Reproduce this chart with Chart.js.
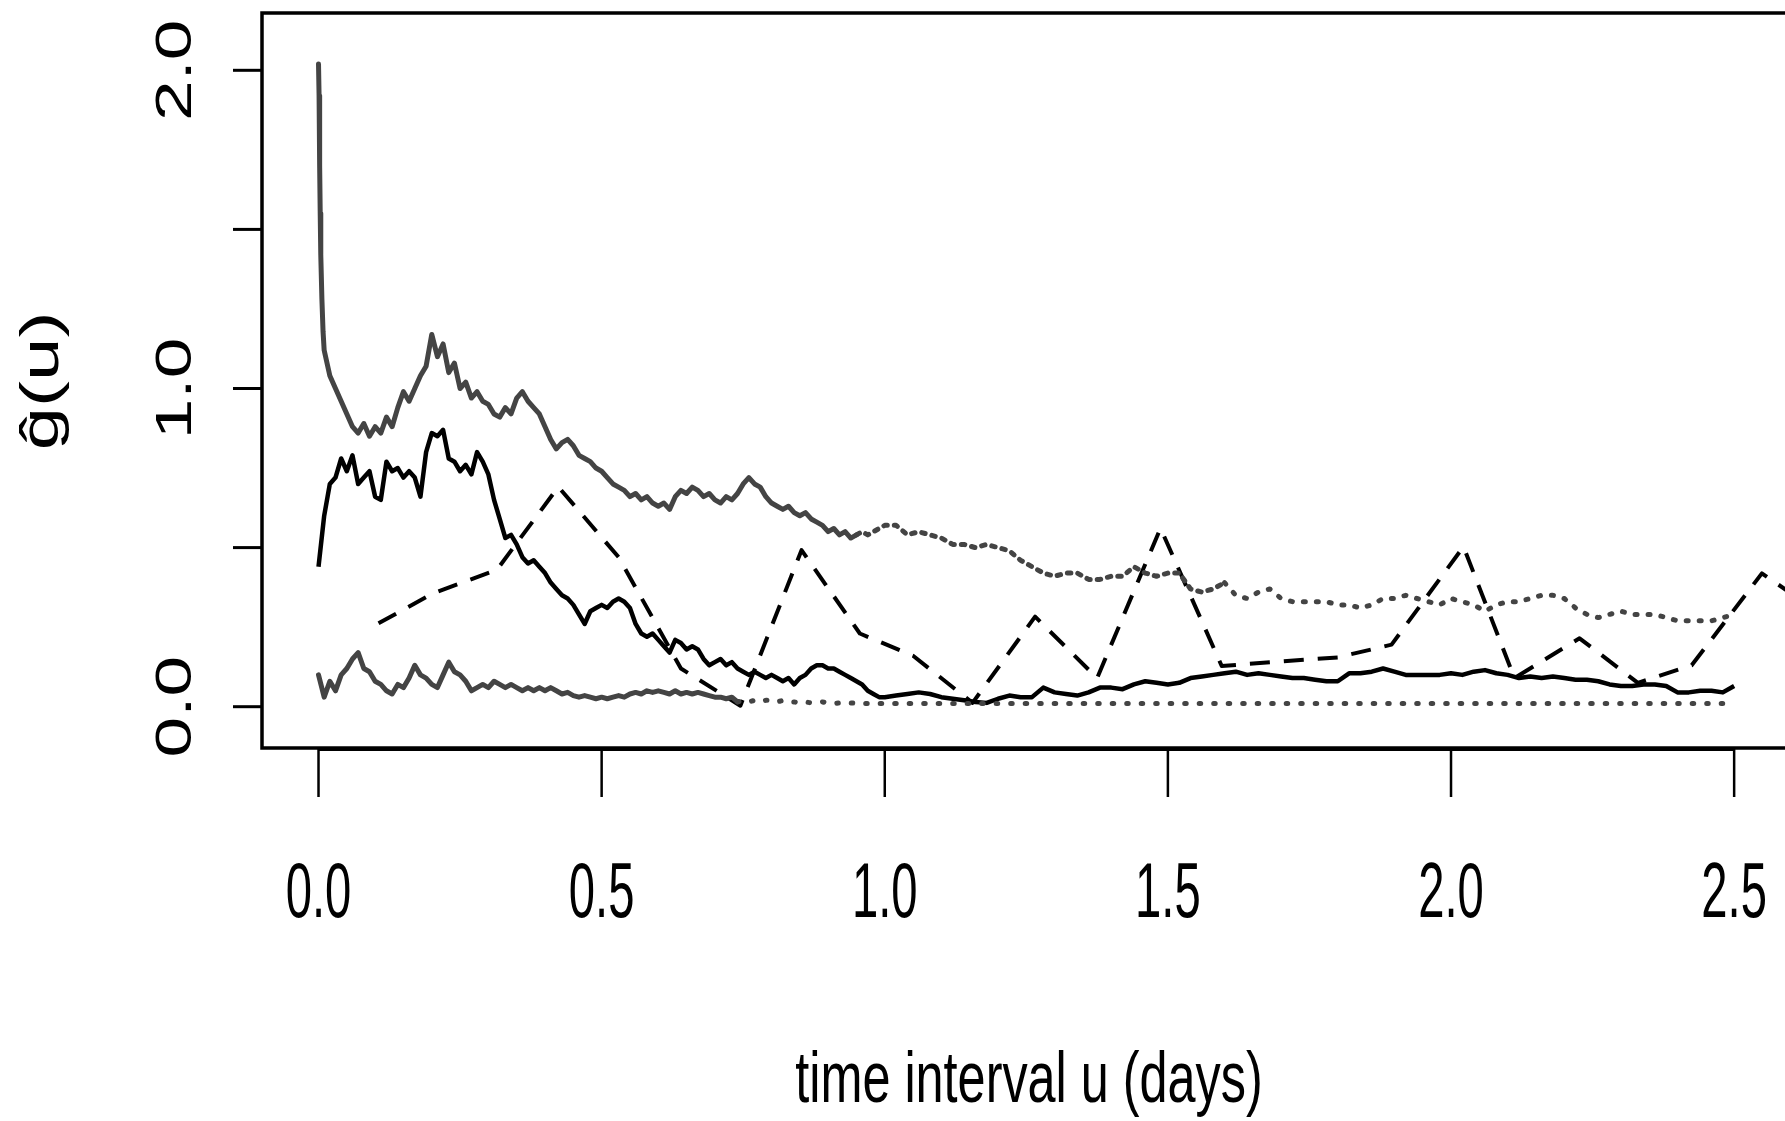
<!DOCTYPE html>
<html>
<head>
<meta charset="utf-8">
<title>g-hat(u)</title>
<script src="https://cdn.jsdelivr.net/npm/chart.js@4.4.1/dist/chart.umd.min.js"></script>
<style>
  html, body { margin: 0; padding: 0; background: #fff; overflow: hidden; }
  #wrap { width: 1800px; height: 1121px; }
</style>
</head>
<body>
<div id="wrap"><canvas id="gChart" width="1800" height="1121"></canvas></div>
<script>
// time grid (days) shared by the three noisy curves
const uGrid = [
  0.00, 0.01, 0.02, 0.03, 0.04, 0.05, 0.06, 0.07, 0.08, 0.09,
  0.10, 0.11, 0.12, 0.13, 0.14, 0.15, 0.16, 0.17, 0.18, 0.19,
  0.20, 0.21, 0.22, 0.23, 0.24, 0.25, 0.26, 0.27, 0.28, 0.29,
  0.30, 0.31, 0.32, 0.33, 0.34, 0.35, 0.36, 0.37, 0.38, 0.39,
  0.40, 0.41, 0.42, 0.43, 0.44, 0.45, 0.46, 0.47, 0.48, 0.49,
  0.50, 0.51, 0.52, 0.53, 0.54, 0.55, 0.56, 0.57, 0.58, 0.59,
  0.60, 0.61, 0.62, 0.63, 0.64, 0.65, 0.66, 0.67, 0.68, 0.69,
  0.70, 0.71, 0.72, 0.73, 0.74, 0.75, 0.76, 0.77, 0.78, 0.79,
  0.80, 0.81, 0.82, 0.83, 0.84, 0.85, 0.86, 0.87, 0.88, 0.89,
  0.90, 0.91, 0.92, 0.93, 0.94, 0.95, 0.96, 0.97, 0.98, 0.99,
  1.00, 1.02, 1.04, 1.06, 1.08, 1.10, 1.12, 1.14, 1.16, 1.18,
  1.20, 1.22, 1.24, 1.26, 1.28, 1.30, 1.32, 1.34, 1.36, 1.38,
  1.40, 1.42, 1.44, 1.46, 1.48, 1.50, 1.52, 1.54, 1.56, 1.58,
  1.60, 1.62, 1.64, 1.66, 1.68, 1.70, 1.72, 1.74, 1.76, 1.78,
  1.80, 1.82, 1.84, 1.86, 1.88, 1.90, 1.92, 1.94, 1.96, 1.98,
  2.00, 2.02, 2.04, 2.06, 2.08, 2.10, 2.12, 2.14, 2.16, 2.18,
  2.20, 2.22, 2.24, 2.26, 2.28, 2.30, 2.32, 2.34, 2.36, 2.38,
  2.40, 2.42, 2.44, 2.46, 2.48, 2.50
];

// estimate (solid black)
const gHat = [
  0.44, 0.60, 0.70, 0.72, 0.78, 0.74, 0.79, 0.70, 0.72, 0.74,
  0.66, 0.65, 0.77, 0.74, 0.75, 0.72, 0.74, 0.72, 0.66, 0.80,
  0.86, 0.85, 0.87, 0.78, 0.77, 0.74, 0.76, 0.73, 0.80, 0.77,
  0.73, 0.65, 0.59, 0.53, 0.54, 0.51, 0.47, 0.45, 0.46, 0.44,
  0.42, 0.39, 0.37, 0.35, 0.34, 0.32, 0.29, 0.26, 0.30, 0.31,
  0.32, 0.31, 0.33, 0.34, 0.33, 0.31, 0.26, 0.23, 0.22, 0.23,
  0.21, 0.19, 0.17, 0.21, 0.20, 0.18, 0.19, 0.18, 0.15, 0.13,
  0.14, 0.15, 0.13, 0.14, 0.12, 0.11, 0.10, 0.11, 0.10, 0.09,
  0.10, 0.09, 0.08, 0.09, 0.07, 0.09, 0.10, 0.12, 0.13, 0.13,
  0.12, 0.12, 0.11, 0.10, 0.09, 0.08, 0.07, 0.05, 0.04, 0.03,
  0.03, 0.035, 0.04, 0.045, 0.04, 0.03, 0.025, 0.02, 0.015, 0.012,
  0.025, 0.035, 0.03, 0.03, 0.06, 0.045, 0.04, 0.035, 0.045, 0.06,
  0.06, 0.055, 0.07, 0.08, 0.075, 0.07, 0.075, 0.09, 0.095, 0.10,
  0.105, 0.11, 0.10, 0.105, 0.10, 0.095, 0.09, 0.09, 0.085, 0.08,
  0.08, 0.105, 0.105, 0.11, 0.12, 0.11, 0.10, 0.10, 0.10, 0.10,
  0.105, 0.10, 0.11, 0.115, 0.105, 0.10, 0.09, 0.095, 0.09, 0.095,
  0.09, 0.085, 0.085, 0.08, 0.07, 0.065, 0.065, 0.07, 0.07, 0.065,
  0.045, 0.045, 0.05, 0.05, 0.045, 0.065
];

// upper envelope (grey)
const gUpper = [
  2.02, 1.12, 1.04, 1.00, 0.96, 0.92, 0.88, 0.86, 0.89, 0.85,
  0.88, 0.86, 0.91, 0.88, 0.94, 0.99, 0.96, 1.00, 1.04, 1.07,
  1.17, 1.10, 1.14, 1.05, 1.08, 1.00, 1.02, 0.97, 0.99, 0.96,
  0.95, 0.92, 0.91, 0.94, 0.92, 0.97, 0.99, 0.96, 0.94, 0.92,
  0.88, 0.84, 0.81, 0.83, 0.84, 0.82, 0.79, 0.78, 0.77, 0.75,
  0.74, 0.72, 0.70, 0.69, 0.68, 0.66, 0.67, 0.65, 0.66, 0.64,
  0.63, 0.64, 0.62, 0.66, 0.68, 0.67, 0.69, 0.68, 0.66, 0.67,
  0.65, 0.64, 0.66, 0.65, 0.67, 0.70, 0.72, 0.70, 0.69, 0.66,
  0.64, 0.63, 0.62, 0.63, 0.61, 0.60, 0.61, 0.59, 0.58, 0.57,
  0.55, 0.56, 0.54, 0.55, 0.53, 0.54, 0.55, 0.54, 0.55, 0.56,
  0.57, 0.57, 0.54, 0.55, 0.54, 0.53, 0.51, 0.51, 0.50, 0.51,
  0.50, 0.49, 0.46, 0.44, 0.42, 0.41, 0.42, 0.42, 0.40, 0.40,
  0.41, 0.41, 0.44, 0.42, 0.41, 0.42, 0.42, 0.37, 0.36, 0.37,
  0.39, 0.35, 0.34, 0.36, 0.37, 0.34, 0.33, 0.33, 0.33, 0.33,
  0.32, 0.32, 0.31, 0.32, 0.34, 0.34, 0.35, 0.34, 0.33, 0.32,
  0.34, 0.33, 0.32, 0.30, 0.32, 0.33, 0.33, 0.34, 0.35, 0.35,
  0.34, 0.31, 0.29, 0.28, 0.29, 0.30, 0.29, 0.29, 0.29, 0.28,
  0.27, 0.27, 0.27, 0.27, 0.28, 0.29
];
// the steep drop right after u = 0
const spikeU = [0.001, 0.002, 0.003, 0.004, 0.006, 0.008];
const spikeG = [1.92, 1.70, 1.55, 1.42, 1.28, 1.18];

// lower envelope (grey)
const gLower = [
  0.10, 0.03, 0.08, 0.05, 0.10, 0.12, 0.15, 0.17, 0.12, 0.11,
  0.08, 0.07, 0.05, 0.04, 0.07, 0.06, 0.09, 0.13, 0.10, 0.09,
  0.07, 0.06, 0.10, 0.14, 0.11, 0.10, 0.08, 0.05, 0.06, 0.07,
  0.06, 0.08, 0.07, 0.06, 0.07, 0.06, 0.05, 0.06, 0.05, 0.06,
  0.05, 0.06, 0.05, 0.04, 0.045, 0.035, 0.03, 0.035, 0.03, 0.025,
  0.03, 0.025, 0.03, 0.035, 0.03, 0.04, 0.045, 0.04, 0.05, 0.045,
  0.05, 0.045, 0.04, 0.05, 0.04, 0.045, 0.04, 0.045, 0.04, 0.035,
  0.03, 0.03, 0.025, 0.03, 0.015, 0.02, 0.015, 0.02, 0.015, 0.02,
  0.02, 0.015, 0.02, 0.015, 0.015, 0.012, 0.015, 0.012, 0.012, 0.015,
  0.012, 0.01, 0.012, 0.01, 0.012, 0.01, 0.01, 0.01, 0.01, 0.01,
  0.01, 0.01, 0.01, 0.01, 0.01, 0.01, 0.01, 0.01, 0.01, 0.01,
  0.01, 0.01, 0.01, 0.01, 0.01, 0.01, 0.01, 0.01, 0.01, 0.01,
  0.01, 0.01, 0.01, 0.01, 0.01, 0.01, 0.01, 0.01, 0.01, 0.01,
  0.01, 0.01, 0.01, 0.01, 0.01, 0.01, 0.01, 0.01, 0.01, 0.01,
  0.01, 0.01, 0.01, 0.01, 0.01, 0.01, 0.01, 0.01, 0.01, 0.01,
  0.01, 0.01, 0.01, 0.01, 0.01, 0.01, 0.01, 0.01, 0.01, 0.01,
  0.01, 0.01, 0.01, 0.01, 0.01, 0.01, 0.01, 0.01, 0.01, 0.01,
  0.01, 0.01, 0.01, 0.01, 0.01, 0.01
];

// coarse comparison curve (dashed)
const coarseU = [0.106, 0.203, 0.315, 0.4235, 0.53, 0.64, 0.745, 0.853, 0.956, 1.05, 1.155, 1.2655, 1.375,
                 1.487, 1.595, 1.70, 1.80, 1.895, 2.022, 2.112, 2.227, 2.33, 2.425, 2.549, 2.655];
const coarseG = [0.262, 0.357, 0.43, 0.691, 0.47, 0.12, 0.003, 0.492, 0.23, 0.16, 0.012, 0.283, 0.09,
                 0.561, 0.128, 0.142, 0.155, 0.195, 0.503, 0.09, 0.215, 0.075, 0.13, 0.419, 0.29];

const xTicks = [0, 0.5, 1.0, 1.5, 2.0, 2.5];
const yTicks = [0, 0.5, 1.0, 1.5, 2.0];
const yTickLabels = {0: '0.0', 1: '1.0', 2: '2.0'};

const _GREY = '#444444';
const FONT = '"Liberation Sans", Arial, Helvetica, sans-serif';

function toPoints(xs, ys) {
    return xs.map((x, i) => ({x: x, y: ys[i]}));
}

let upperPts = toPoints(uGrid, gUpper);
upperPts.splice(1, 0, ...toPoints(spikeU, spikeG));

// dotted look of the envelopes: they only break up once the curve flattens out
function upperDash(c) {
    const u = c.p0.parsed.x;
    if (u < 0.95) return undefined;
    if (u < 1.6) return [3.5, 7];
    return [2, 11];
}
function lowerDash(c) {
    return c.p0.parsed.x >= 0.74 ? [1.5, 13] : undefined;
}

// axes drawn the way R's plot() does: box, outward ticks, squeezed text
const rAxes = {
    id: 'rAxes',
    afterDraw(chart) {
        const ctx = chart.ctx;
        const a = chart.chartArea;
        const xs = chart.scales.x;
        const ys = chart.scales.y;
        ctx.save();
        ctx.strokeStyle = '#000';
        ctx.fillStyle = '#000';

        ctx.lineWidth = 3.5;
        ctx.beginPath();
        ctx.moveTo(a.right + 10, a.top);
        ctx.lineTo(a.left, a.top);
        ctx.lineTo(a.left, a.bottom);
        ctx.lineTo(a.right + 10, a.bottom);
        ctx.stroke();

        // x axis line + ticks
        ctx.lineWidth = 3;
        ctx.beginPath();
        ctx.moveTo(xs.getPixelForValue(0), a.bottom + 1.5);
        ctx.lineTo(xs.getPixelForValue(2.5), a.bottom + 1.5);
        ctx.stroke();
        ctx.lineWidth = 2.5;
        xTicks.forEach(v => {
            const px = xs.getPixelForValue(v);
            ctx.beginPath();
            ctx.moveTo(px, a.bottom);
            ctx.lineTo(px, a.bottom + 49);
            ctx.stroke();
        });

        // y ticks
        ctx.lineWidth = 3;
        yTicks.forEach(v => {
            const py = ys.getPixelForValue(v);
            ctx.beginPath();
            ctx.moveTo(a.left - 29, py);
            ctx.lineTo(a.left, py);
            ctx.stroke();
        });

        // x tick labels
        ctx.font = '78px ' + FONT;
        ctx.textAlign = 'center';
        ctx.textBaseline = 'alphabetic';
        xTicks.forEach(v => {
            ctx.save();
            ctx.translate(xs.getPixelForValue(v), 916.5);
            ctx.scale(0.605, 1);
            ctx.fillText(v.toFixed(1), 0, 0);
            ctx.restore();
        });

        // y tick labels (rotated)
        ctx.font = '73px ' + FONT;
        yTicks.forEach(v => {
            if (!yTickLabels[v]) return;
            ctx.save();
            ctx.translate(191, ys.getPixelForValue(v));
            ctx.scale(0.69, 1);
            ctx.rotate(-Math.PI / 2);
            ctx.fillText(yTickLabels[v], 0, 0);
            ctx.restore();
        });

        // axis titles
        ctx.save();
        ctx.font = '73px ' + FONT;
        ctx.translate(1029, 1101.5);
        ctx.scale(0.69, 1);
        ctx.fillText('time interval u (days)', 0, 0);
        ctx.restore();

        ctx.save();
        ctx.font = '78px ' + FONT;
        ctx.translate(58, 381);
        ctx.scale(0.69, 1);
        ctx.rotate(-Math.PI / 2);
        ctx.fillText('\u011D(u)', 0, 0);
        ctx.restore();

        ctx.restore();
    }
};

const ctx = document.getElementById('gChart').getContext('2d');
const gChart = new Chart(ctx, {
    type: 'line',
    data: {
        datasets: [{
            label: 'upper',
            data: upperPts,
            borderColor: _GREY,
            borderWidth: 5,
            borderCapStyle: 'round',
            segment: {borderDash: upperDash}
        }, {
            label: 'lower',
            data: toPoints(uGrid, gLower),
            borderColor: _GREY,
            borderWidth: 5,
            borderCapStyle: 'round',
            segment: {borderDash: lowerDash}
        }, {
            label: 'coarse',
            data: toPoints(coarseU, coarseG),
            borderColor: '#000',
            borderWidth: 4,
            borderDash: [20, 14],
            borderCapStyle: 'butt'
        }, {
            label: 'estimate',
            data: toPoints(uGrid, gHat),
            borderColor: '#000',
            borderWidth: 4.5
        }]
    },
    options: {
        responsive: false,
        animation: false,
        devicePixelRatio: 1,
        layout: {
            padding: {left: 262, top: 13, right: 0, bottom: 373}
        },
        elements: {
            point: {radius: 0},
            line: {tension: 0, fill: false, borderJoinStyle: 'round'}
        },
        plugins: {
            legend: {display: false},
            tooltip: {enabled: false}
        },
        scales: {
            x: {type: 'linear', min: -0.0998, max: 2.6163, display: false},
            y: {type: 'linear', min: -0.1298, max: 2.1801, display: false}
        }
    },
    plugins: [rAxes]
});
</script>
</body>
</html>
